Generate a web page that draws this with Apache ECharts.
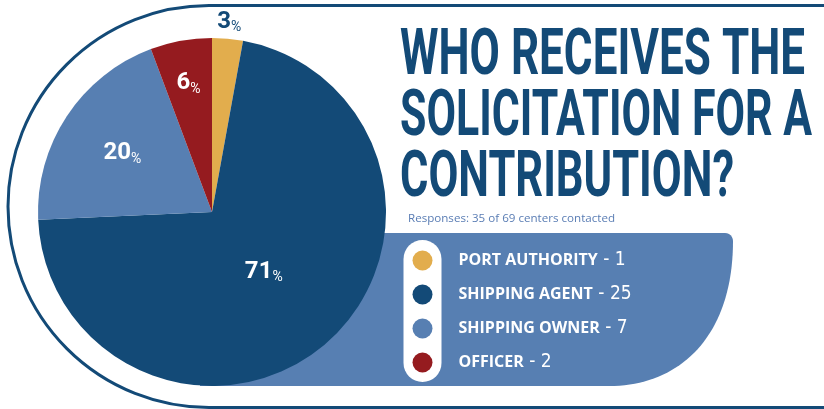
<!DOCTYPE html>
<html>
<head>
<meta charset="utf-8">
<script src="https://cdn.jsdelivr.net/npm/echarts@6/dist/echarts.min.js"></script>
<style>
  html, body { margin: 0; padding: 0; background: #ffffff; }
  #chart { width: 824px; height: 409px; }
</style>
</head>
<body>
<div id="chart"></div>
<script>
// ---- data ----
const categories = ['PORT AUTHORITY', 'SHIPPING AGENT', 'SHIPPING OWNER', 'OFFICER'];
const responses = [1, 25, 7, 2];
const titleLines = ['WHO RECEIVES THE', 'SOLICITATION FOR A', 'CONTRIBUTION?'];
const subtitle = 'Responses: 35 of 69 centers contacted';

// ---- styling / layout ----
const sliceColors = ['#e2ad4d', '#134a77', '#577fb2', '#951b1f'];
const DARK = '#134a77';
const LIGHT = '#577fb2';
const PIE = { cx: 212, cy: 212, r: 174 };
const labelRadius = [191, 79, 107, 131];   // distance of each percentage label from the pie centre
const titleWidths = [405, 412, 334];        // set width of each headline line
const CONDENSED = '"DejaVu Sans Condensed", Roboto, sans-serif';
const HEAD = 'Roboto, "DejaVu Sans Condensed", sans-serif';
const SANS = '"Open Sans", Lato, sans-serif';

const chart = echarts.init(document.getElementById('chart'), null, { renderer: 'canvas' });

// condensed headline: each line is squeezed horizontally to its set width
const TITLE_SIZE = 64;
const titleFont = 'bold ' + TITLE_SIZE + 'px ' + HEAD;
const measureCtx = document.createElement('canvas').getContext('2d');
measureCtx.font = titleFont;
const titleScales = titleLines.map((line, i) => titleWidths[i] / measureCtx.measureText(line).width);

// legend panel outline: flat top, small top-right corner, long sweeping bottom-right curve
function panelPoints() {
  const pts = [[200, 233], [725, 233]];
  for (let k = 1; k <= 6; k++) {
    const a = -Math.PI / 2 + (Math.PI / 2) * k / 6;
    pts.push([725 + 8 * Math.cos(a), 241 + 8 * Math.sin(a)]);
  }
  const p0 = [733, 241], p1 = [733, 336], p2 = [680, 386], p3 = [609, 386];
  for (let k = 1; k <= 40; k++) {
    const t = k / 40, u = 1 - t;
    pts.push([
      u * u * u * p0[0] + 3 * u * u * t * p1[0] + 3 * u * t * t * p2[0] + t * t * t * p3[0],
      u * u * u * p0[1] + 3 * u * u * t * p1[1] + 3 * u * t * t * p2[1] + t * t * t * p3[1]
    ]);
  }
  pts.push([200, 386]);
  return pts;
}

const graphics = [
  {
    type: 'rect', z: 0, silent: true,
    shape: { x: 8, y: 5.5, width: 900, height: 402, r: [201, 0, 0, 201] },
    style: { fill: 'none', stroke: DARK, lineWidth: 3 }
  },
  {
    type: 'polygon', z: 0, silent: true,
    shape: { points: panelPoints() },
    style: { fill: LIGHT }
  },
  {
    type: 'rect', z: 1, silent: true,
    shape: { x: 403.5, y: 240, width: 38, height: 142, r: 19 },
    style: { fill: '#ffffff' }
  }
].concat(titleLines.map((line, i) => ({
  type: 'text', z: 5, silent: true,
  x: 400, y: 58 + i * 61, scaleX: titleScales[i],
  style: { text: line, font: titleFont, fill: DARK, align: 'left', verticalAlign: 'middle' }
}))).concat([{
  type: 'text', z: 5, silent: true,
  x: 408, y: 218.5,
  style: { text: subtitle, font: '11.6px ' + SANS, fill: '#5a7db4', align: 'left', verticalAlign: 'middle' }
}]);

const option = {
  backgroundColor: '#ffffff',
  animation: false,
  graphic: { elements: graphics },
  legend: {
    orient: 'vertical',
    left: 412.5,
    top: 250.5,
    padding: 0,
    itemWidth: 20,
    itemHeight: 20,
    itemGap: 14,
    icon: 'circle',
    selectedMode: false,
    data: categories,
    formatter: name => '{a|' + name + '}{b| - ' + responses[categories.indexOf(name)] + '}',
    textStyle: {
      color: '#ffffff',
      padding: [0, 0, 0, 21],
      lineHeight: 20,
      rich: {
        a: { fontFamily: SANS, fontWeight: 'bold', fontSize: 16, lineHeight: 20, color: '#ffffff' },
        b: { fontFamily: CONDENSED, fontSize: 19, lineHeight: 20, color: '#ffffff' }
      }
    }
  },
  series: [{
    type: 'pie',
    z: 3,
    center: [PIE.cx, PIE.cy],
    radius: PIE.r,
    startAngle: 90,
    clockwise: true,
    silent: true,
    emphasis: { disabled: true },
    data: categories.map((name, i) => ({
      name: name,
      value: responses[i],
      itemStyle: { color: sliceColors[i] },
      label: { color: i === 0 ? DARK : '#ffffff' }
    })),
    label: {
      show: true,
      position: 'inside',
      formatter: p => '{n|' + Math.round(p.percent) + '}{p|%}',
      rich: {
        n: { fontFamily: HEAD, fontWeight: 'bold', fontSize: 24, lineHeight: 26 },
        p: { fontFamily: HEAD, fontSize: 14, lineHeight: 26, verticalAlign: 'bottom' }
      }
    },
    labelLine: { show: false },
    // push each label along its own radial direction to the wanted distance
    labelLayout: function (params) {
      const rect = params.labelRect;
      const lx = rect.x + rect.width / 2 - PIE.cx;
      const ly = rect.y + rect.height / 2 - PIE.cy;
      const d = Math.sqrt(lx * lx + ly * ly) || 1;
      const rr = labelRadius[params.dataIndex];
      return {
        x: PIE.cx + lx / d * rr,
        y: PIE.cy + ly / d * rr,
        align: 'center',
        verticalAlign: 'middle'
      };
    }
  }]
};

chart.setOption(option);
</script>
</body>
</html>
